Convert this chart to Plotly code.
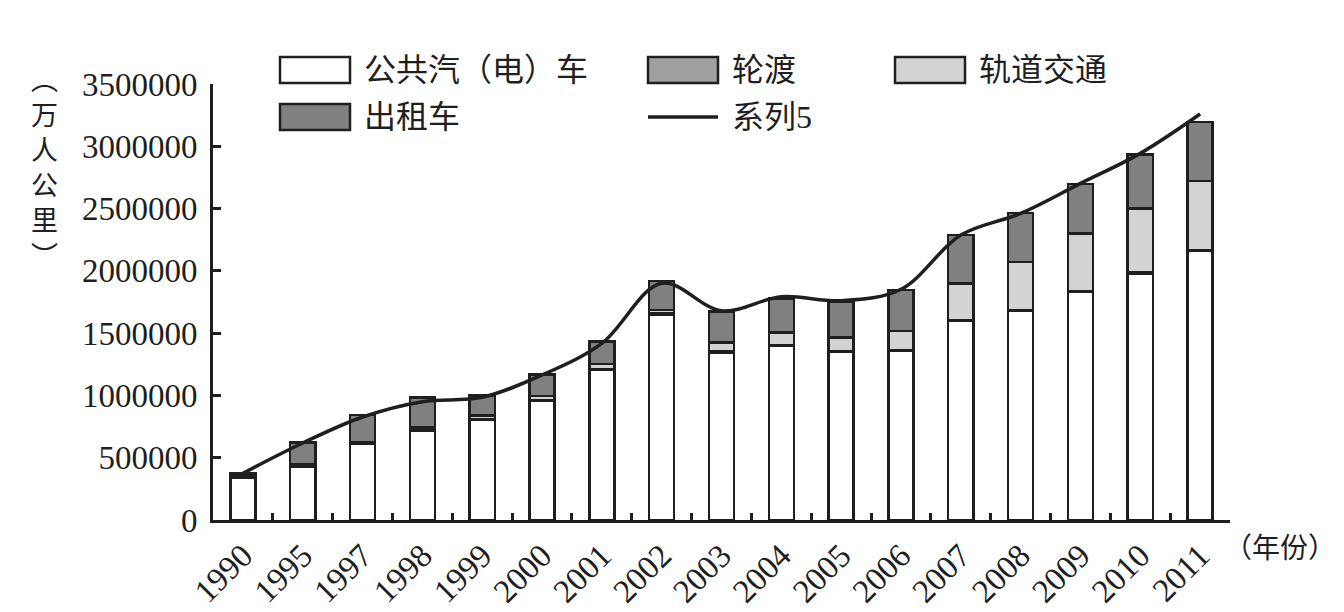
import plotly.graph_objects as go

# 上海客运周转量（万人公里）
years = ["1990", "1995", "1997", "1998", "1999", "2000", "2001", "2002", "2003",
         "2004", "2005", "2006", "2007", "2008", "2009", "2010", "2011"]
bus = [343000, 428000, 615000, 714000, 806000, 961000, 1204000, 1651000, 1346000,
       1399000, 1351000, 1356000, 1600000, 1680000, 1832000, 1980000, 2161000]
ferry = [8000, 15000, 6000, 15000, 4000, 4000, 5000, 5000, 5000,
         5000, 5000, 5000, 5000, 5000, 5000, 5000, 5000]
rail = [0, 4000, 4000, 12000, 30000, 30000, 43000, 29000, 72000,
        102000, 110000, 156000, 295000, 388000, 464000, 517000, 554000]
taxi = [24000, 177000, 218000, 241000, 158000, 174000, 179000, 233000, 249000,
        273000, 286000, 329000, 388000, 393000, 396000, 433000, 476000]
series5 = [375000, 618000, 827000, 950000, 985000, 1164000, 1418000, 1900000, 1680000,
           1792000, 1760000, 1852000, 2287000, 2461000, 2702000, 2943000, 3259000]

ink = "#1f1f1f"
font = "Liberation Serif, 'Noto Sans CJK SC', serif"
edge = dict(color=ink, width=2.5)
colors = {"公共汽（电）车": "#ffffff", "轮渡": "#a0a0a0", "轨道交通": "#d3d3d3", "出租车": "#808080"}

# 绘图区（像素）
L, R, T, B = 213, 1230, 84, 520


def px(x):
    return (x - L) / (R - L)


def py(y):
    return (B - y) / (B - T)


fig = go.Figure()
for name, vals in [("公共汽（电）车", bus), ("轮渡", ferry), ("轨道交通", rail), ("出租车", taxi)]:
    fig.add_trace(go.Bar(x=years, y=vals, name=name, marker=dict(color=colors[name], line=edge)))
fig.add_trace(go.Scatter(x=years, y=series5, name="系列5", mode="lines",
                         line=dict(color=ink, width=3.5, shape="spline", smoothing=1)))

# 图例（手工画出，色块较宽）
shapes = []
annotations = []
legend_items = [("公共汽（电）车", 280, 70), ("轮渡", 648, 70), ("轨道交通", 895, 70),
                ("出租车", 280, 117), ("系列5", 648, 117)]
for name, lx, ly in legend_items:
    if name in colors:
        shapes.append(dict(type="rect", xref="paper", yref="paper",
                           x0=px(lx), x1=px(lx + 70), y0=py(ly + 13), y1=py(ly - 13),
                           fillcolor=colors[name], line=dict(color=ink, width=2.5)))
    else:
        shapes.append(dict(type="line", xref="paper", yref="paper",
                           x0=px(lx), x1=px(lx + 70), y0=py(ly), y1=py(ly),
                           line=dict(color=ink, width=3.5)))
    annotations.append(dict(text=name, xref="paper", yref="paper", x=px(lx + 82), y=py(ly),
                            xanchor="left", yanchor="middle", showarrow=False,
                            font=dict(family=font, size=32, color=ink)))

annotations.append(dict(text="︵<br>万<br>人<br>公<br>里<br>︶", xref="paper", yref="paper",
                        x=px(44), y=py(64), xanchor="center", yanchor="top", showarrow=False,
                        font=dict(family=font, size=27, color=ink)))
annotations.append(dict(text="（年份）", xref="paper", yref="paper", x=px(1222), y=py(548),
                        xanchor="left", yanchor="middle", showarrow=False,
                        font=dict(family=font, size=28, color=ink)))

fig.update_layout(
    width=1344, height=612,
    margin=dict(l=L, r=1344 - R, t=T, b=612 - B, autoexpand=False),
    paper_bgcolor="white", plot_bgcolor="white",
    barmode="stack", bargap=0.58, showlegend=False,
    font=dict(family=font, size=32, color=ink),
    xaxis=dict(showline=True, linecolor=ink, linewidth=3, ticks="inside", ticklen=7,
               tickwidth=2.5, tickcolor=ink, tickson="boundaries", tickangle=-45,
               tickfont=dict(family=font, size=33, color=ink), showgrid=False, automargin=False),
    yaxis=dict(range=[0, 3500000], dtick=500000, showline=True, linecolor=ink, linewidth=3,
               ticks="inside", ticklen=8, tickwidth=2.5, tickcolor=ink, showgrid=False,
               zeroline=False, tickformat="d", ticklabelstandoff=6, automargin=False,
               tickfont=dict(family=font, size=33, color=ink)),
    shapes=shapes,
    annotations=annotations,
)

# 去掉页面默认边距，让图正好铺满窗口
fig.write_html("out.html", config={"displayModeBar": False},
               post_script="document.body.style.margin = '0';")
